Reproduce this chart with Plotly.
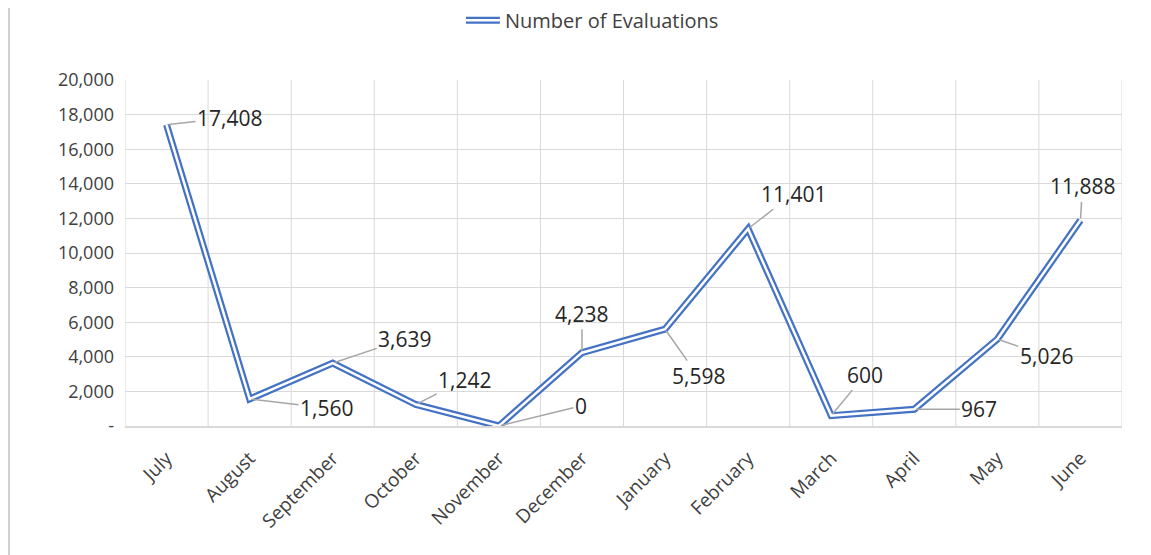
import plotly.graph_objects as go

BLUE = "#4472C4"
TEXT = "#404040"
GRID = "#D9D9D9"
FONT = "Open Sans"

months = ["July", "August", "September", "October", "November", "December",
          "January", "February", "March", "April", "May", "June"]
evaluations = [17408, 1560, 3639, 1242, 0, 4238, 5598, 11401, 600, 967, 5026, 11888]

# label offsets (px) from the point, like Excel's dragged data labels
label_dx = [63, 77, 72, 49, 82, 0, 33, 45, 34, 65, 49, 2]
label_dy = [-7, 9, -24, -25, -20, -39, 47, -35, -41, 0, 17, -34]

y_ticks = [0, 2000, 4000, 6000, 8000, 10000, 12000, 14000, 16000, 18000, 20000]
y_ticktext = ["-"] + [f"{v:,}" for v in y_ticks[1:]]

fig = go.Figure()
# compound "double" line: thick blue with a thin white core
fig.add_trace(go.Scatter(x=months, y=evaluations, mode="lines",
                         line=dict(color=BLUE, width=7), showlegend=False,
                         hoverinfo="skip"))
fig.add_trace(go.Scatter(x=months, y=evaluations, mode="lines",
                         line=dict(color="white", width=2.5), showlegend=False,
                         name="Number of Evaluations"))

for m, v, dx, dy in zip(months, evaluations, label_dx, label_dy):
    fig.add_annotation(x=m, y=v, ax=dx, ay=dy, text=f"{v:,}",
                       showarrow=True, arrowhead=0, arrowwidth=1.5,
                       arrowcolor="#A6A6A6", standoff=2,
                       font=dict(family=FONT, size=21, color="#262626"))

# legend sample (double line) + text
fig.add_shape(type="line", xref="paper", yref="paper",
              x0=0.342, x1=0.376, y0=1.173, y1=1.173,
              line=dict(color=BLUE, width=7))
fig.add_shape(type="line", xref="paper", yref="paper",
              x0=0.342, x1=0.376, y0=1.173, y1=1.173,
              line=dict(color="white", width=2.5))
fig.add_annotation(xref="paper", yref="paper", x=0.379, y=1.173,
                   xanchor="left", yanchor="middle", showarrow=False,
                   text="Number of Evaluations",
                   font=dict(family=FONT, size=20, color=TEXT))
# chart-area edge on the left
fig.add_shape(type="line", xref="paper", yref="paper",
              x0=-0.1163, x1=-0.1163, y0=-0.45, y1=1.3,
              line=dict(color="#D0D0D0", width=2))

fig.update_layout(
    width=1143, height=547,
    paper_bgcolor="white", plot_bgcolor="white",
    font=dict(family=FONT, size=18, color=TEXT),
    margin=dict(l=117, r=29, t=72, b=129),
    showlegend=False,
    xaxis=dict(type="category", tickangle=-45, showgrid=False,
               showline=True, linecolor=GRID, linewidth=1.5,
               ticks="", tickfont=dict(size=19, color=TEXT),
               ticklabelstandoff=12, range=[-0.5, 11.5]),
    yaxis=dict(range=[0, 20000], tickvals=y_ticks, ticktext=y_ticktext,
               showgrid=True, gridcolor=GRID, gridwidth=1,
               zeroline=False, ticks="", ticklabelstandoff=10,
               tickfont=dict(size=18, color=TEXT)),
)

# vertical gridlines between categories (Excel style)
for i in range(13):
    fig.add_shape(type="line", xref="x", yref="paper", x0=i - 0.5, x1=i - 0.5,
                  y0=0, y1=1, line=dict(color=GRID, width=1), layer="below")

fig.write_html("out.html")
